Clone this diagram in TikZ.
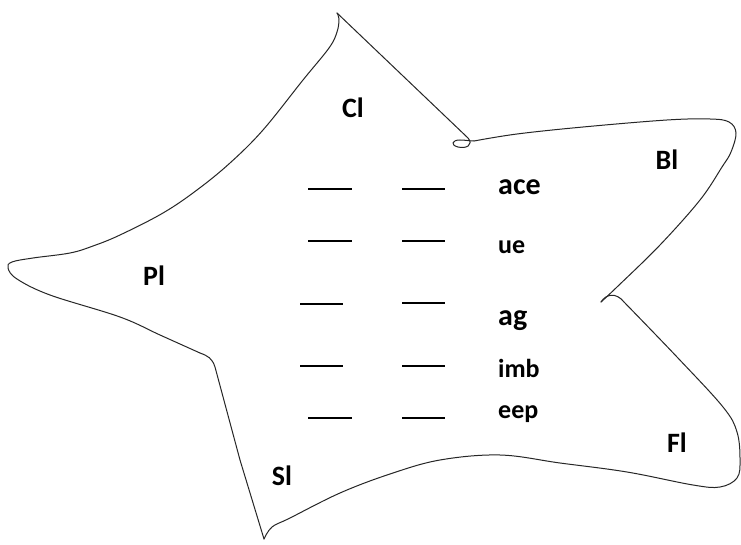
\documentclass[tikz,border=0pt]{standalone}
\usepackage{fontspec}
\setmainfont{Carlito}
\begin{document}
\begin{tikzpicture}[x=1pt,y=-1pt,
  outline/.style={draw=black!85, line width=1pt, line join=round, line cap=round},
  blank/.style={line width=2pt, black},
  lbl/.style={anchor=base, inner sep=0pt, font=\fontsize{28}{30}\selectfont\bfseries},
  itembig/.style={anchor=base west, inner sep=0pt, font=\fontsize{30}{32}\selectfont\bfseries},
  itemsmall/.style={anchor=base west, inner sep=0pt, font=\fontsize{26}{28}\selectfont\bfseries}]
\useasboundingbox[fill=white] (0,0) rectangle (741,545);
% outline of the star
\draw[outline] (337,13) -- (468,138)
  .. controls (474,145) and (466,149) .. (458,147)
  .. controls (450,145) and (452,140) .. (460,140)
  .. controls (465,140) and (470,141) .. (474,141);
\draw[outline] plot[smooth, tension=0.6] coordinates {(474,141) (517,134) (583,127) (667,120) (710,119) (729,122) (736,133) (731,152) (722,167) (700,200) (660,245) (617,287) (601,302)};
\draw[outline] (601,302) .. controls (606,294) and (616,292) .. (624,302);
\draw[outline] plot[smooth, tension=0.6] coordinates {(624,302) (677,357) (723,407) (737,432) (740,460) (737,478) (720,487) (693,485) (627,472) (560,463) (500,455) (440,460) (390,474) (340,493) (290,518) (272,527) (264,539)};
\draw[outline] (264,539) -- (240,460) -- (215,367) .. controls (212,358) and (208,356) .. (200,353);
\draw[outline] plot[smooth, tension=0.6] coordinates {(200,353) (160,335) (120,317) (50,295) (17,279) (8,268) (12,262) (33,258) (70,253) (93,246) (120,235) (163,213) (197,190) (230,163) (263,130) (303,80) (329,48) (337,32) (339,19) (337,13)};
% labels
\node[lbl] (cl) at (353,118) {Cl};
\node[lbl] (bl) at (667,170) {Bl};
\node[lbl] (pl) at (154,285) {Pl};
\node[lbl] (fl) at (677,452) {Fl};
\node[lbl] (sl) at (282,485) {Sl};
% items
\node[itembig] (ace) at (498,195) {ace};
\node[itemsmall] (ue) at (498,254) {ue};
\node[itembig] (ag) at (498,325) {ag};
\node[itemsmall] (imb) at (498,377) {imb};
\node[itemsmall] (eep) at (498,418) {eep};
% blanks
\draw[blank] (308,189) -- (352,189);  \draw[blank] (402,189) -- (445,189);
\draw[blank] (308,241) -- (352,241);  \draw[blank] (402,241) -- (445,241);
\draw[blank] (300,304) -- (343,304);  \draw[blank] (402,303) -- (445,303);
\draw[blank] (300,366) -- (343,366);  \draw[blank] (402,366) -- (445,366);
\draw[blank] (308,418) -- (352,418);  \draw[blank] (402,418) -- (445,418);
\end{tikzpicture}
\end{document}
